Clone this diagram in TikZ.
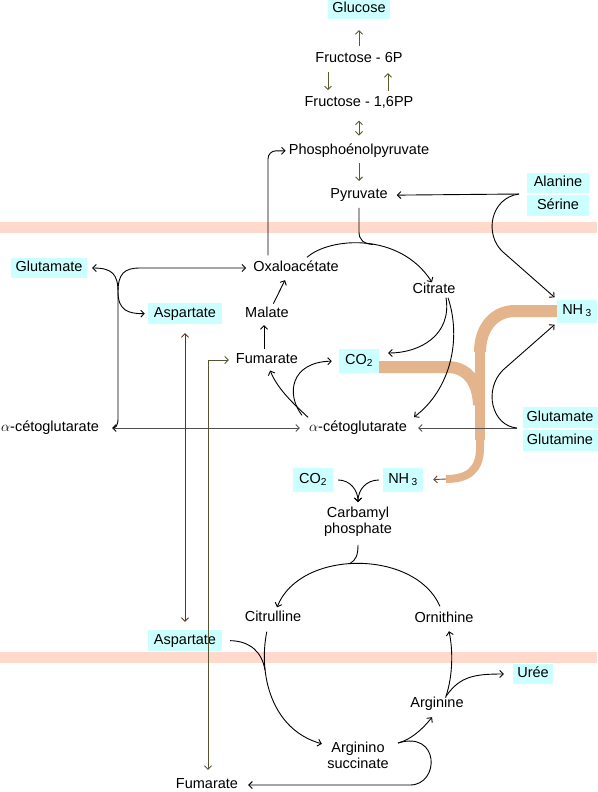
\documentclass[tikz,border=0pt]{standalone}
\usepackage{fontspec}
\setmainfont{Liberation Sans}
\usetikzlibrary{arrows.meta}
\usetikzlibrary{positioning}

\definecolor{boxcyan}{RGB}{204,255,255}
\definecolor{membrane}{RGB}{255,218,204}
\definecolor{nflowtan}{RGB}{228,180,140}
\definecolor{glyco}{RGB}{90,90,45}
\definecolor{shuttle}{RGB}{80,80,80}
\definecolor{aspline}{RGB}{95,50,30}
\definecolor{fumline}{RGB}{85,85,50}
\definecolor{nharrow}{RGB}{95,75,55}

\tikzset{
  >={Straight Barb[length=3.5pt, width=7pt]},
  % path with no arrows
  narr/.style = {
    draw,
    line width = 0.9pt
  },
  % path with an arrow at its end
  arr/.style = {
    narr,
    ->
  },
  % path with an arrow at both ends
  darr/.style = {
    narr,
    <->
  },
  % ammonia carried by glutamine
  nflow/.style = {
    draw = nflowtan,
    line width = 12pt
  }
}
\tikzset{
  % metabolite
  mol/.style = {
    inner sep = 1pt,
    text height = 10pt,
    text depth = 3pt,
    font = \fontsize{14.5}{16}\selectfont
  },
  % metabolite on two lines
  mol2/.style = {
    inner sep = 1pt,
    align = center,
    font = \fontsize{14.5}{16}\selectfont
  },
  % metabolite coming from or going to the blood
  ext/.style = {
    mol,
    fill = boxcyan,
    inner xsep = 4pt,
    minimum height = 21pt
  }
}

\begin{document}
\begin{tikzpicture}[x=1pt, y=-1pt]
    \useasboundingbox (0,0) rectangle (597,792);

    % membranes
    \fill[membrane] (0,222) rectangle (597,233);
    \fill[membrane] (0,652) rectangle (597,663);

    \node[ext, minimum width=62pt, minimum height=20pt] (glucose) at (359,9) {Glucose};
    \node[mol] (f6p) at (359,59) {Fructose - 6P};
    \node[mol] (f16pp) [below=29pt of f6p] {Fructose - 1,6PP};
    \node[mol] (pep) [below=32pt of f16pp] {Phosphoénolpyruvate};
    \node[mol] (pyr) [below=29pt of pep] {Pyruvate};

    \node[ext, minimum width=62pt, minimum height=20pt] (ala) at (558,183) {Alanine};
    \node[ext, minimum width=62pt] (ser) [below=2pt of ala] {Sérine};

    \node[mol] (oaa) at (296,268) {Oxaloacétate};
    \node[mol] (citrate) at (434,290) {Citrate};
    \node[mol] (malate) at (267,314) {Malate};
    \node[mol] (fum) at (267,360) {Fumarate};
    \node[mol] (akg) at (358,428) {$\alpha$-cétoglutarate};
    \node[ext, minimum width=40pt, minimum height=24pt] (co2a) at (359,361) {CO\textsubscript{2}};
    \node[ext, minimum width=40pt, minimum height=23pt] (nh3a) at (577,311) {NH\,\textsubscript{3}};

    \node[ext, minimum width=76pt, minimum height=20pt] (glu) at (49,268) {Glutamate};
    \node[ext, minimum width=74pt] (asp1) at (185,313.5) {Aspartate};
    \node[mol] (akgl) at (50,428) {$\alpha$-cétoglutarate};

    \node[ext, minimum width=75pt] (glum) at (560,417.5) {Glutamate};
    \node[ext, minimum width=75pt] (glun) [below=2pt of glum] {Glutamine};

    \node[ext, minimum width=40pt, minimum height=24pt] (co2b) at (313,480) {CO\textsubscript{2}};
    \node[ext, minimum width=40pt, minimum height=24pt] (nh3b) at (403,480) {NH\,\textsubscript{3}};
    \node[mol2] (carb) at (358,522) {Carbamyl\\phosphate};

    \node[mol] (citr) at (273,618) {Citrulline};
    \node[mol] (orn) at (444,619) {Ornithine};
    \node[ext, minimum width=74pt] (asp2) at (185,640.5) {Aspartate};
    \node[ext, minimum width=40pt, minimum height=20pt] (uree) at (533,674) {Urée};
    \node[mol] (arg) at (437,704) {Arginine};
    \node[mol2] (argsuc) at (358,755) {Arginino\\succinate};
    \node[mol] (fumb) at (207,785) {Fumarate};

    \coordinate (glu-fork) at (118,292);
    \coordinate (gln-fork) at (517,428);
    \coordinate (ala-fork) at (519,194);
    \coordinate (suc-fork) at (398,743);

    % ammonia towards the urea cycle
    \draw[nflow] (nh3a.west) -- (515,311)
      .. controls (494,311) and (480,328) .. (480,352);
    \draw[nflow, line width=10pt] (480,345) -- (480,440);
    \draw[nflow, line width=8pt] (480,436) -- (480,448)
      .. controls (480,470) and (468,479) .. (446,479);
    \draw[nflow] ([yshift=-6pt]co2a.east) -- (447,367)
      .. controls (466,367) and (478,380) .. (479,405);
    \draw[arr, nharrow, shorten >=10pt] (446,479) -- (nh3b.east);

    % glycolysis and back
    \draw[arr, glyco, shorten <=5.5pt, shorten >=11pt] (f6p) -- (glucose);
    \draw[arr, glyco, shorten <=5.5pt, shorten >=5.5pt]
      ([xshift=-31pt]f6p.south) -- ([xshift=-31pt]f16pp.north);
    \draw[arr, glyco, shorten <=4.5pt, shorten >=6.5pt]
      ([xshift=29pt]f16pp.north) -- ([xshift=29pt]f6p.south);
    \draw[darr, glyco, shorten <=9.5pt, shorten >=7.5pt] (f16pp) -- (pep);
    \draw[arr, glyco, shorten <=4.5pt, shorten >=6.5pt] (pep) -- (pyr);

    \draw[arr, shorten >=8pt] (ala-fork) -- (pyr.east);
    \draw[arr, shorten >=3pt] (ala-fork)
      .. controls (490,198) and (484,235) .. (503,252)
      -- (nh3a.north west);

    \draw[arr, rounded corners=8pt, shorten >=2pt]
      ([xshift=-28pt, yshift=5pt]oaa.north) |- (pep.west);

    % Krebs cycle
    \draw[narr] ([yshift=-5pt]pyr.south) -- (359,232)
      .. controls (359,240) and (364,244) .. (373,244.5);
    \draw[arr] ([xshift=11pt, yshift=3pt]oaa.north)
      .. controls (330,237) and (400,232) .. ([xshift=-2pt]citrate.north);
    \draw[arr] ([xshift=12pt]citrate.south)
      .. controls (452,335) and (420,353) .. ([xshift=9pt, yshift=8pt]co2a.east);
    \draw[arr] ([xshift=14pt]citrate.south)
      .. controls (462,340) and (450,390) .. ([xshift=6pt, yshift=11pt]akg.east);
    \draw[arr, shorten >=3pt] ([xshift=-50pt, yshift=3pt]akg.north)
      .. controls (295,405) and (278,390) .. ([xshift=2pt]fum.south);
    \draw[arr, shorten >=7pt] ([xshift=-56pt, yshift=5pt]akg.north)
      .. controls (286,395) and (290,362) .. (co2a.west);
    \draw[arr, shorten <=3.5pt, shorten >=3.5pt]
      ([xshift=-3pt]fum.north) -- ([xshift=-3pt]malate.south);
    \draw[arr, shorten <=3pt]
      ([xshift=5pt]malate.north) -- ([xshift=-11pt, yshift=-4.5pt]oaa.south);

    % glutamate and glutamine
    \draw[arr, shuttle, shorten >=10pt] (gln-fork) -- (akg.east);
    \draw[arr, shorten >=3pt] (gln-fork)
      .. controls (492,426) and (483,390) .. (503,370)
      -- (nh3a.south west);

    \draw[arr, shorten >=5pt] (glu-fork)
      .. controls (118,274) and (112,268) .. (glu.east);
    \draw[arr, shorten >=6pt] (glu-fork)
      .. controls (118,274) and (124,268) .. (140,268)
      -- (oaa.west);
    \draw[arr, shorten >=3pt] (glu-fork)
      .. controls (118,310) and (128,314) .. (asp1.west);
    \draw[arr, shorten >=12pt] (glu-fork) -- (118,419)
      .. controls (118,426) and (115,428) .. (akgl.east);
    \draw[arr, shuttle, shorten <=14pt, shorten >=8pt] (akgl) -- (akg);

    \draw[darr, aspline, shorten <=9pt, shorten >=8pt] (asp1) -- (asp2);
    \draw[darr, fumline, shorten <=6pt, shorten >=7.5pt]
      (fum.west) -| ([xshift=1pt]fumb.north);

    % urea cycle
    \draw[arr, shorten <=5pt] (co2b.east)
      .. controls (350,480) and (358,490) .. ([yshift=4pt]carb.north);
    \draw[arr, shorten <=4pt] (nh3b.west)
      .. controls (366,480) and (358,490) .. ([yshift=4pt]carb.north);
    \draw[narr, shorten <=7pt] (carb.south)
      .. controls (358,555) and (356,560) .. (350,563.5);

    \draw[arr] ([xshift=-4pt, yshift=5pt]orn.north)
      .. controls (415,549) and (300,549) .. ([xshift=4pt, yshift=3pt]citr.north);
    \draw[arr, shorten <=6pt, shorten >=4.5pt] ([xshift=-5pt]citr.south)
      .. controls (258,675) and (272,730) .. ([yshift=10pt]argsuc.west);
    \draw[narr, shorten <=8pt] (asp2.east)
      .. controls (250,641) and (262,652) .. (265,670);

    \draw[arr] (suc-fork)
      .. controls (410,740) and (422,730) .. ([xshift=-5pt, yshift=-5.5pt]arg.south);
    \draw[arr, shorten >=9pt] (suc-fork)
      .. controls (440,730) and (440,785) .. (410,785)
      -- (fumb.east);

    \draw[arr] ([xshift=9pt]arg.north)
      .. controls (453,675) and (453,650) .. ([xshift=5pt, yshift=-4.5pt]orn.south);
    \draw[arr, shorten >=9pt] ([xshift=9pt]arg.north)
      .. controls (460,676) and (475,674) .. (uree.west);
\end{tikzpicture}
\end{document}
